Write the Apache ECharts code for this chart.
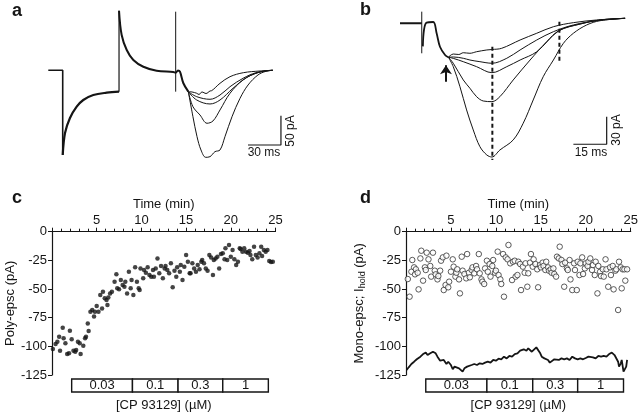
<!DOCTYPE html>
<html lang="en">
<head>
<meta charset="UTF-8">
<script src="https://cdn.jsdelivr.net/npm/echarts@6.0.0/dist/echarts.min.js"></script>
<title>CP 93129 epsc</title>
<style>
  html, body { margin: 0; padding: 0; background: #fff; }
  #chart { width: 640px; height: 417px; }
</style>
</head>
<body>
<div id="chart"></div>
<script type="text/javascript">
// ---- panel a : traces (ms, pA) ----
var aBase = [[0, 0], [13.1, 0], [13.1, -144.5]];
var aDecay1 = [[13.1, -144.5], [15.2, -107], [19.7, -81.4], [25.8, -62.1], [31.8, -50.7], [40.9, -42.2], [53.1, -38.2], [64.3, -36.5]];
var aJump = [[64.3, -36.5], [64.3, 101.7]];
var aDecay2 = [[64.3, 101.7], [66.7, 60.2], [71.3, 34.6], [77.3, 17.6], [86.4, 6.1], [98.5, -0.7], [113.6, -2.9], [115.8, -4.1], [117.9, -0.3], [119.7, -2.4], [122.7, -21.7], [127.3, -36.5]];
var aArtifact = [[115.8, 100], [115.8, -36.5]];
var aTrace1 = [[127.3, -36.5], [130.6, -37], [134.9, -39.2], [137, -41.3], [139.7, -37], [143.4, -39.6], [147, -35.3], [148.5, -34.8], [156.1, -22.2], [165.2, -10.9], [177.3, -4.1], [192.5, -1.2], [204, 0]];
var aTrace2 = [[127.3, -36.5], [134.9, -45], [147, -49.5], [156.1, -42.2], [165.2, -28], [177, -13.7], [188.8, -4.1], [204, 0]];
var aTrace3 = [[127.3, -36.5], [134.9, -50.7], [147, -57.5], [156.1, -50.7], [167.9, -30.7], [180.6, -12], [194.3, -2], [204, 0]];
var aTrace4 = [[127.3, -36.5], [131.5, -62.1], [137.9, -76.3], [144.3, -90.4], [149.7, -86.5], [156.1, -67.7], [165.2, -39.2], [177, -16.6], [190.6, -3.8], [204, 0]];
var aTrace5 = [[127.3, -36.5], [131.5, -79.2], [135.2, -113.3], [138.8, -136], [143.1, -148.5], [147, -147.4], [151.5, -138.9], [156.1, -136], [160.6, -113.3], [167, -79.2], [174.3, -47.8], [181.6, -25.1], [190.6, -8], [197.9, -1.7], [204, 0]];
var aScaleBar = [[181.5, -127.5], [211.5, -127.5], [211.5, -77.5]];

// ---- panel b : traces (ms, pA) ----
var bBase = [[0, 0], [9.8, 0]];
var bArtifact = [[9.8, 12.6], [9.8, -32.5]];
var bRise = [[10.3, -25], [10.8, -7.3], [12, 0.7], [15, 1.4], [16.5, -10.8], [18, -25.4], [20.3, -34.3], [21.8, -36.8]];
var bTrace1 = [[21.8, -36.8], [24.0, -33.3], [26.5, -33.8], [28.5, -31.9], [31.5, -32.5], [34.5, -30.8], [39.1, -28.9], [41.4, -28.4], [45.8, -27.1], [54.1, -18.1], [61.6, -10.8], [69.1, -3.7], [78.1, 0.7], [88.6, 3.6], [101.4, 5.4]];
var bTrace2 = [[21.8, -36.8], [24.0, -36.5], [28.5, -37.9], [31.5, -39.8], [36.0, -41.6], [41.4, -43.3], [48.1, -37.9], [54.1, -28.9], [61.6, -18.1], [69.1, -9.1], [78.1, -1.8], [88.6, 2.8], [101.4, 5.4]];
var bTrace3 = [[21.8, -36.8], [24.0, -38], [28.5, -41.6], [34.5, -47.0], [41.4, -53.5], [48.1, -47.0], [54.1, -39.8], [61.6, -30.8], [71.6, -8.0], [81.1, -0.8], [90.1, 3.6], [101.4, 5.4]];
var bTrace4 = [[21.8, -36.8], [24.0, -43.3], [28.5, -61.4], [31.5, -70.4], [34.5, -79.5], [37.5, -84.2], [41.4, -84.9], [45.0, -79.5], [51.0, -61.4], [58.6, -39.8], [66.1, -19.9], [71.6, -8.0], [81.1, -0.8], [90.1, 3.6], [101.4, 5.4]];
var bTrace5 = [[21.8, -36.8], [24.0, -47.0], [27.0, -68.7], [30.0, -93.9], [33.0, -115.6], [36.0, -133.7], [39.1, -142.7], [41.4, -144.9], [45.0, -137.3], [51.0, -126.4], [55.5, -108.3], [60.0, -83.1], [64.5, -57.9], [69.1, -39.8], [73.6, -21.7], [78.1, -10.8], [84.1, -1.8], [90.1, 2.8], [101.4, 5.4]];
var bDash1 = [[41.6, -25.4], [41.6, -148.1]];
var bDash2 = [[71.8, 1.7], [71.8, -40.5]];
var bArrow = [[20.7, -63.3], [20.7, -45.5]];
var bScaleBar = [[78.1, -131.1], [93.1, -131.1], [93.1, -101.2]];

// ---- panel c : poly-epsc (min, pA) ----
var cTime = [0.1,0.4,0.6,0.8,0.9,1.2,1.3,1.5,1.7,1.9,2.0,2.2,2.4,2.6,2.7,2.9,3.1,3.2,3.5,3.7,3.8,4.0,4.1,4.3,4.5,4.7,4.8,5.0,5.2,5.4,5.6,5.7,5.9,6.1,6.2,6.3,6.5,6.7,7.0,7.2,7.3,7.5,7.7,7.9,8.1,8.2,8.4,8.6,8.8,8.9,9.1,9.3,9.5,9.7,9.8,9.9,10.2,10.3,10.5,10.7,10.9,11.1,11.3,11.4,11.6,11.8,12.0,12.2,12.4,12.6,12.7,12.9,13.1,13.3,13.5,13.7,13.9,14.0,14.3,14.4,14.6,14.8,15.0,15.2,15.4,15.5,15.7,15.9,16.1,16.3,16.5,16.7,16.8,17.0,17.2,17.4,17.6,17.8,18.0,18.1,18.3,18.5,18.7,18.9,19.1,19.3,19.4,19.6,19.8,20.0,20.2,20.4,20.6,20.8,21.0,21.1,21.3,21.5,21.7,21.9,22.1,22.2,22.4,22.6,22.8,23.0,23.2,23.4,23.5,23.7,23.9,24.1,24.3,24.5,24.7];
var cEpsc = [-102.3,-98,-96,-91.6,-103.8,-83.7,-93,-97.4,-106.7,-106,-86.3,-93.9,-103.8,-104.7,-103.2,-96,-97.4,-106.7,-99.4,-93,-91.6,-80,-86.6,-69.8,-68.3,-74,-69.8,-64.8,-69.8,-55.2,-66.9,-52.3,-58.1,-59.6,-64,-57.3,-53.8,-52.3,-43.6,-37.2,-49.4,-50.3,-42.2,-46.5,-48,-43.6,-53.8,-34.9,-49.4,-42.2,-55.2,-31.1,-43.6,-49.4,-50.9,-32,-40.7,-33.4,-35.8,-31.1,-37.8,-39.2,-33.4,-39.2,-32,-23.3,-36.3,-29.9,-40.7,-32,-29.9,-33.4,-36.3,-27.6,-48.5,-34,-39.2,-31.1,-34.9,-29.1,-42.2,-30.5,-20.3,-26.2,-36.3,-36.3,-27.6,-32,-34.9,-29.1,-32.8,-26.2,-24.7,-27.6,-32,-34,-20.3,-22.4,-37.8,-24.7,-23.3,-21.8,-32,-19.5,-18.9,-24.1,-14.5,-24.7,-11.6,-21.8,-16,-24.1,-29.1,-26.2,-14.5,-15.1,-17.4,-14.5,-17.4,-18.3,-16.9,-20.3,-24.1,-13.1,-20.3,-22.4,-18.9,-13.1,-21.2,-16,-17.4,-16,-25.6,-26.5,-26.2];

// ---- panel d : mono-epsc and holding current (min, pA) ----
var dTime = [0.2,0.4,0.6,0.7,0.9,1.0,1.1,1.3,1.4,1.6,1.7,1.9,2.1,2.2,2.3,2.5,2.7,2.8,3.0,3.2,3.3,3.5,3.6,3.8,3.9,4.1,4.2,4.4,4.5,4.7,4.8,5.0,5.2,5.3,5.5,5.6,5.7,5.9,6.0,6.2,6.3,6.5,6.7,6.8,7.0,7.1,7.3,7.4,7.6,7.8,7.9,8.1,8.2,8.4,8.5,8.7,8.8,9.0,9.1,9.3,9.4,9.6,9.7,9.9,10.0,10.2,10.3,10.5,10.6,10.8,10.9,11.1,11.3,11.4,11.6,11.8,11.9,12.1,12.2,12.4,12.5,12.7,12.8,13.0,13.2,13.3,13.5,13.6,13.8,13.9,14.1,14.2,14.4,14.6,14.7,14.9,15.0,15.2,15.3,15.5,15.6,15.8,15.9,16.1,16.2,16.4,16.5,16.7,16.8,17.0,17.1,17.3,17.4,17.6,17.7,17.9,18.0,18.2,18.3,18.5,18.7,18.8,19.0,19.1,19.3,19.4,19.6,19.7,19.9,20.0,20.2,20.3,20.5,20.7,20.8,21.0,21.1,21.3,21.4,21.6,21.7,21.9,22.0,22.2,22.3,22.5,22.7,22.8,23.0,23.1,23.3,23.4,23.6,23.7,23.9,24.0,24.1,24.3,24.4,24.6];
var dEpsc = [-41.3,-56.7,-34.9,-24.7,-31.1,-37.2,-32.8,-35.8,-50.3,-23.3,-16.6,-42.7,-31.1,-33.4,-18.3,-24.1,-29.9,-39.2,-18.3,-34,-37.2,-41.6,-38.7,-34,-25.3,-22.4,-50.9,-46.5,-20.9,-48.5,-43.6,-34.9,-24.1,-30.5,-39.2,-35.8,-32.8,-41.6,-53.8,-21.8,-34,-36.9,-40.7,-19.5,-35.8,-39.8,-33.4,-31.1,-36.3,-29.9,-32.8,-19.5,-36.3,-41.6,-43.6,-45.6,-32,-25.3,-34.9,-28.2,-39.2,-29.9,-24.7,-35.8,-34,-17.4,-37.8,-41.6,-45.6,-19.5,-56.7,-22.4,-24.1,-11.6,-27.6,-42.2,-26.2,-25.3,-39.2,-37.8,-26.2,-28.2,-50.9,-30.5,-35.8,-27.6,-48,-36.3,-27,-19.5,-30.5,-24.1,-28.2,-32.8,-48.5,-29.1,-31.1,-27,-29.9,-33.4,-26.2,-31.1,-34,-32.8,-35.8,-32,-36.9,-39.2,-21.8,-23.3,-13.1,-24.7,-28.2,-48,-27,-32,-33.4,-24.7,-41.6,-50.9,-27.6,-33.4,-50.9,-26.2,-37.8,-27.6,-22.4,-36.9,-32,-27.6,-29.9,-26.2,-23.3,-33.4,-29.1,-37.8,-26.2,-53.8,-29.9,-34.9,-38.7,-32.8,-39.2,-24.1,-32.8,-48,-31.1,-37.8,-29.9,-50.3,-34,-32.8,-68.3,-26.2,-31.1,-49.4,-32.8,-32.8,-42.7,-32.8];
var dHoldTime = [0.07,0.3,0.4,0.6,0.9,1.2,1.6,1.9,2.2,2.4,2.7,3.0,3.3,3.5,3.8,4.0,4.2,4.5,4.7,5.0,5.2,5.4,5.6,5.9,6.1,6.3,6.5,6.8,7.0,7.3,7.6,7.9,8.2,8.5,8.8,9.1,9.4,9.7,10.0,10.3,10.6,10.9,11.2,11.5,11.8,12.1,12.4,12.7,12.9,13.1,13.4,13.6,13.8,14.0,14.2,14.5,14.7,14.9,15.1,15.4,15.6,15.8,16.0,16.2,16.5,16.7,17.0,17.3,17.6,17.9,18.2,18.5,18.8,19.1,19.4,19.7,20.0,20.3,20.5,20.8,21.1,21.4,21.7,22.0,22.3,22.6,22.9,23.2,23.4,23.6,23.7,23.9,24.0,24.2,24.3,24.5,24.6];
var dHold = [-120.6,-118.3,-120,-115.4,-113.4,-111.3,-109,-106.7,-105.5,-107.6,-106.1,-104.7,-106.1,-109,-112.5,-114.2,-111.9,-115.4,-113.4,-116.3,-120,-117.7,-116.3,-119.2,-120.6,-122.1,-119.2,-117.7,-117.2,-116.3,-115.4,-116.3,-114.8,-115.4,-114.2,-113.4,-114.2,-111.9,-112.5,-110.8,-111.3,-109,-110.5,-108.4,-109,-106.7,-106.1,-103.8,-105.5,-102.6,-103.8,-101.7,-103.2,-104.7,-103.2,-100.9,-101.7,-105.5,-109,-110.5,-109.6,-111.9,-114.2,-112.5,-111.3,-112.5,-111.9,-110.5,-111.3,-110.5,-111.9,-109,-110.5,-111.3,-110.5,-111.3,-110.2,-109,-110.5,-109.6,-110.5,-108.4,-109,-108.4,-109,-106.7,-105.5,-107.6,-106.1,-113.4,-117.7,-114.8,-111.9,-122.1,-123.5,-117.7,-111.9];

// ---- drug application bar ----
var concLabels = ['0.03', '0.1', '0.3', '1'];
var concStart = [2.2, 9.0, 14.1, 19.1];
var concEnd = [9.0, 14.1, 19.1, 24.2];

var ink = '#151515';
var font = 'Liberation Sans, Arial, sans-serif';

function pairs(xs, ys) {
    var out = [];
    for (var i = 0; i < xs.length; i++) out.push([xs[i], ys[i]]);
    return out;
}

function trace(idx, data, width, smooth, dash) {
    return {
        type: 'line', xAxisIndex: idx, yAxisIndex: idx, data: data,
        showSymbol: false, smooth: smooth ? 0.35 : false, silent: true,
        lineStyle: { color: ink, width: width, type: dash || 'solid' }
    };
}

function hiddenAxes(idx, xmin, xmax, ymin, ymax) {
    return {
        x: { gridIndex: idx, type: 'value', min: xmin, max: xmax, show: false },
        y: { gridIndex: idx, type: 'value', min: ymin, max: ymax, show: false }
    };
}

function timeAxis(idx) {
    return {
        gridIndex: idx, type: 'value', position: 'top', min: 0, max: 25, interval: 5,
        name: 'Time (min)', nameLocation: 'middle', nameGap: 21,
        nameTextStyle: { fontSize: 13, color: ink, fontFamily: font },
        axisLine: { show: true, onZero: false, lineStyle: { color: ink, width: 1.2 } },
        axisTick: { show: true, length: 4, lineStyle: { color: ink } },
        minorTick: { show: true, splitNumber: 5, length: 3, lineStyle: { color: ink } },
        axisLabel: { margin: 5, fontSize: 13, color: ink, fontFamily: font,
            formatter: function (v) { return v === 0 ? '' : v; } },
        splitLine: { show: false }
    };
}

function pAAxis(idx, name, gap, rich) {
    return {
        gridIndex: idx, type: 'value', min: -125, max: 0, interval: 25,
        name: name, nameLocation: 'middle', nameGap: gap, nameRotate: 90,
        nameTextStyle: { fontSize: 13, color: ink, fontFamily: font, rich: rich },
        axisLine: { show: true, onZero: false, lineStyle: { color: ink, width: 1.2 } },
        axisTick: { show: true, length: 4, lineStyle: { color: ink } },
        axisLabel: { margin: 5, fontSize: 13, color: ink, fontFamily: font },
        splitLine: { show: false }
    };
}

function boxAxis(idx) {
    return {
        gridIndex: idx, type: 'value', min: 0, max: 25, position: 'bottom',
        name: '[CP 93129] (\u00b5M)', nameLocation: 'middle', nameGap: 7,
        nameTextStyle: { fontSize: 13, color: ink, fontFamily: font },
        axisLine: { show: false }, axisTick: { show: false }, axisLabel: { show: false },
        splitLine: { show: false }
    };
}

function concBar(idx) {
    var data = [];
    for (var i = 0; i < concLabels.length; i++) data.push([concStart[i], concEnd[i]]);
    return {
        type: 'custom', xAxisIndex: idx, yAxisIndex: idx, data: data, silent: true,
        renderItem: function (params, api) {
            var p0 = api.coord([api.value(0), 1]);
            var p1 = api.coord([api.value(1), 0]);
            return {
                type: 'rect',
                shape: { x: p0[0], y: p0[1], width: p1[0] - p0[0], height: p1[1] - p0[1] },
                style: { fill: '#fff', stroke: ink, lineWidth: 1.4 },
                textContent: { style: { text: concLabels[params.dataIndex], fontSize: 13, fill: ink, fontFamily: font } },
                textConfig: { position: 'inside' }
            };
        }
    };
}

var chart = echarts.init(document.getElementById('chart'));

var axA = hiddenAxes(0, 0, 220, -160, 110);
var axB = hiddenAxes(1, 0, 105, -160, 20);

var option = {
    animation: false,
    backgroundColor: '#fff',
    textStyle: { fontFamily: font },
    grid: [
        { left: 48.3, top: 5.84, width: 242, height: 158.2, outerBoundsMode: 'none' },
        { left: 400, top: 4.84, width: 233.1, height: 166.1, outerBoundsMode: 'none' },
        { left: 52, top: 231.7, width: 223.5, height: 143.3, outerBoundsMode: 'none' },
        { left: 406, top: 231.7, width: 224.7, height: 143.3, outerBoundsMode: 'none' },
        { left: 52, top: 379, width: 223.5, height: 13, outerBoundsMode: 'none' },
        { left: 406, top: 379, width: 224.7, height: 13, outerBoundsMode: 'none' }
    ],
    xAxis: [axA.x, axB.x, timeAxis(2), timeAxis(3), boxAxis(4), boxAxis(5)],
    yAxis: [
        axA.y, axB.y,
        pAAxis(2, 'Poly-epsc (pA)', 35),
        pAAxis(3, 'Mono-epsc; I{s|hold} (pA)', 39, { s: { fontSize: 9, padding: [7, 0, 0, 0], fontFamily: font, color: ink } }),
        { gridIndex: 4, type: 'value', min: 0, max: 1, show: false },
        { gridIndex: 5, type: 'value', min: 0, max: 1, show: false }
    ],
    graphic: [
        { type: 'text', left: 12, top: 2, style: { text: 'a', font: 'bold 18px ' + font, fill: ink } },
        { type: 'text', left: 360, top: 1, style: { text: 'b', font: 'bold 18px ' + font, fill: ink } },
        { type: 'text', left: 12, top: 189, style: { text: 'c', font: 'bold 18px ' + font, fill: ink } },
        { type: 'text', left: 360, top: 189, style: { text: 'd', font: 'bold 18px ' + font, fill: ink } },
        { type: 'text', x: 264, y: 153, style: { text: '30 ms', font: '12px ' + font, fill: ink, align: 'center', verticalAlign: 'middle' } },
        { type: 'text', x: 291, y: 131, rotation: Math.PI / 2, style: { text: '50 pA', font: '12px ' + font, fill: ink, align: 'center', verticalAlign: 'middle' } },
        { type: 'text', x: 591, y: 153, style: { text: '15 ms', font: '12px ' + font, fill: ink, align: 'center', verticalAlign: 'middle' } },
        { type: 'text', x: 617, y: 130, rotation: Math.PI / 2, style: { text: '30 pA', font: '12px ' + font, fill: ink, align: 'center', verticalAlign: 'middle' } }
    ],
    series: [
        // panel a
        trace(0, aBase, 1.6, false),
        trace(0, aDecay1, 2.2, true),
        trace(0, aJump, 1.2, false),
        trace(0, aDecay2, 2.0, true),
        trace(0, aArtifact, 1.0, false),
        trace(0, aTrace1, 1.0, true),
        trace(0, aTrace2, 1.0, true),
        trace(0, aTrace3, 1.0, true),
        trace(0, aTrace4, 1.0, true),
        trace(0, aTrace5, 1.0, true),
        trace(0, aScaleBar, 1.2, false),
        // panel b
        trace(1, bBase, 2.0, false),
        trace(1, bArtifact, 1.0, false),
        trace(1, bRise, 1.8, true),
        trace(1, bTrace1, 1.0, true),
        trace(1, bTrace2, 1.0, true),
        trace(1, bTrace3, 1.0, true),
        trace(1, bTrace4, 1.0, true),
        trace(1, bTrace5, 1.0, true),
        trace(1, bDash1, 2.0, false, [4, 3]),
        trace(1, bDash2, 2.0, false, [4, 3]),
        trace(1, bScaleBar, 1.2, false),
        {
            type: 'lines', coordinateSystem: 'cartesian2d', xAxisIndex: 1, yAxisIndex: 1, silent: true,
            symbol: ['none', 'arrow'], symbolSize: 9,
            lineStyle: { color: ink, width: 2, opacity: 1 },
            data: [{ coords: bArrow }]
        },
        // panel c
        {
            type: 'scatter', xAxisIndex: 2, yAxisIndex: 2, data: pairs(cTime, cEpsc),
            symbol: 'circle', symbolSize: 4.5, itemStyle: { color: ink }, silent: true
        },
        concBar(4),
        // panel d
        {
            type: 'scatter', xAxisIndex: 3, yAxisIndex: 3, data: pairs(dTime, dEpsc),
            symbol: 'circle', symbolSize: 5.5, silent: true,
            itemStyle: { color: '#fff', borderColor: '#333', borderWidth: 1 }
        },
        {
            type: 'line', xAxisIndex: 3, yAxisIndex: 3, data: pairs(dHoldTime, dHold),
            showSymbol: false, silent: true, lineStyle: { color: ink, width: 1.8 }
        },
        concBar(5)
    ]
};

chart.setOption(option);
window.onresize = function () { chart.resize(); };
</script>
</body>
</html>
